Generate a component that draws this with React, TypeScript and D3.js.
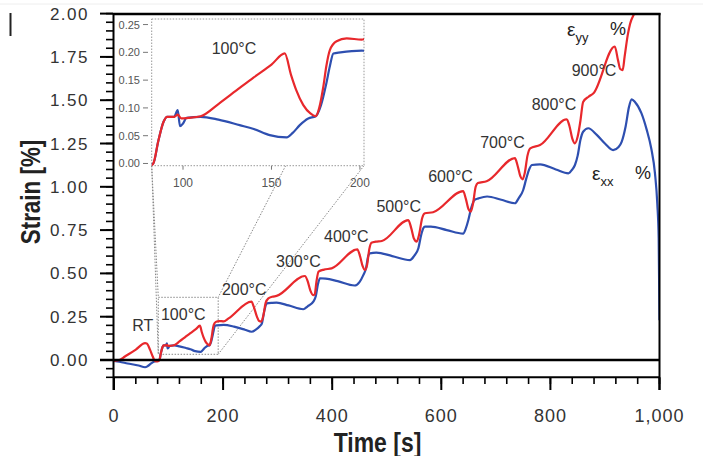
import React from 'react';
import * as d3 from 'd3';

// ε_yy (red) strain [%] vs time [s]
const epsYY: [number, number][] = [
  [0, -0.005], [10, 0.0], [20, 0.02], [40, 0.06], [57, 0.097], [60, 0.095], [66, 0.06], [71, 0.02],
  [75, -0.005], [80, -0.008], [83.2, 0.0], [86, 0.04], [89, 0.075], [91, 0.084], [95, 0.084], [97, 0.088],
  [99, 0.081], [103, 0.082], [110, 0.085], [120, 0.107], [130, 0.131], [140, 0.155], [150, 0.178],
  [157.5, 0.198], [161, 0.16], [164, 0.132], [168, 0.105], [172, 0.09], [175, 0.085], [177, 0.1],
  [179.3, 0.138], [181, 0.175], [183, 0.204], [186.8, 0.22], [192.5, 0.225], [201, 0.223],
  [210, 0.24], [252, 0.337], [256, 0.31], [262, 0.25], [266, 0.225], [270, 0.222], [274, 0.26], [278, 0.33],
  [283, 0.356], [290, 0.365], [298, 0.37],
  [350, 0.485], [355, 0.455], [360, 0.4], [365, 0.375], [368, 0.38], [371, 0.45], [375, 0.51], [385, 0.522], [399, 0.529],
  [446, 0.639], [451, 0.6], [456, 0.54], [460, 0.52], [464, 0.55], [468, 0.64], [472, 0.677], [480, 0.683], [491, 0.687],
  [539.5, 0.808], [545, 0.76], [550, 0.7], [555, 0.683], [559, 0.72], [565, 0.82], [570, 0.847], [585, 0.853],
  [640, 0.975], [645, 0.93], [650, 0.87], [654, 0.856], [658, 0.9], [663, 1.0], [667, 1.022], [683, 1.032],
  [735, 1.165], [740, 1.12], [745, 1.06], [749, 1.043], [753, 1.08], [758, 1.18], [763, 1.222], [781, 1.241],
  [830, 1.39], [835, 1.35], [840, 1.28], [845, 1.251], [850, 1.29], [855, 1.38], [860, 1.49], [870, 1.52], [879, 1.54],
  [918, 1.81], [924, 1.73], [928, 1.68], [932.5, 1.674], [936, 1.75], [942, 1.88], [946, 1.94], [955, 2.01], [962, 2.08],
];

// ε_xx (blue)
const epsXX: [number, number][] = [
  [0, -0.005], [10, -0.01], [25, -0.02], [45, -0.032], [57, -0.042], [62, -0.035], [68, -0.02], [73, -0.01],
  [78, -0.005], [83.2, 0.0], [86, 0.04], [89, 0.075], [91, 0.084], [95, 0.084], [97, 0.096], [98.3, 0.067],
  [100, 0.072], [102, 0.082], [110, 0.084], [120, 0.079], [132, 0.069], [140, 0.062], [149, 0.051],
  [158.6, 0.047], [162, 0.055], [166, 0.069], [170.8, 0.081], [175, 0.085], [178, 0.105], [181, 0.144],
  [183, 0.175], [185, 0.198], [189, 0.2], [201, 0.203],
  [220, 0.193], [240, 0.175], [252, 0.163], [260, 0.175], [267.6, 0.196], [271, 0.21], [276, 0.29], [280, 0.327],
  [290, 0.33], [298, 0.331],
  [320, 0.315], [347, 0.293], [355, 0.31], [365.4, 0.337], [370, 0.37], [374, 0.44], [377.6, 0.472], [388, 0.47],
  [410, 0.455], [441, 0.43], [450, 0.45], [457, 0.49], [462, 0.53], [466, 0.6], [469, 0.616], [481, 0.62],
  [510, 0.6], [542.6, 0.577], [550, 0.6], [558, 0.645], [563, 0.72], [567, 0.76], [570, 0.77], [581, 0.77],
  [610, 0.75], [640, 0.73], [645, 0.76], [649.6, 0.808], [655, 0.88], [661, 0.925], [668, 0.933], [684, 0.944],
  [710, 0.925], [735, 0.905], [742, 0.935], [750, 0.98], [756, 1.05], [761, 1.1], [766, 1.126], [781, 1.13],
  [810, 1.1], [833, 1.078], [840, 1.1], [845, 1.126], [850, 1.18], [855, 1.27], [860, 1.318], [869.5, 1.338],
  [885, 1.3], [900, 1.25], [915, 1.212], [925, 1.23], [930.6, 1.26], [938, 1.35], [944, 1.46], [949, 1.505],
  [955, 1.49], [967, 1.424], [976.5, 1.33], [985, 1.22], [991.7, 1.078], [996, 0.9], [998.5, 0.7], [1000, 0.23],
];

const yTicks = [0, 0.25, 0.5, 0.75, 1.0, 1.25, 1.5, 1.75, 2.0];
const yTickLabels = ['0.00', '0.25', '0.50', '0.75', '1.00', '1.25', '1.50', '1.75', '2.00'];
const xTicks = [0, 200, 400, 600, 800, 1000];
const xTickLabels = ['0', '200', '400', '600', '800', '1,000'];

const tempLabels = ['RT', '100°C', '200°C', '300°C', '400°C', '500°C', '600°C', '700°C', '800°C', '900°C'];
const tempLabelT = [52.6, 127, 238.7, 338, 425.9, 522, 616.9, 712.2, 806.6, 880];
const tempLabelV = [0.167, 0.231, 0.375, 0.537, 0.684, 0.854, 1.025, 1.222, 1.443, 1.64];

const insetXTicks = [100, 150, 200];
const insetYTicks = [0, 0.05, 0.1, 0.15, 0.2, 0.25];
const insetYTickLabels = ['0.00', '0.05', '0.10', '0.15', '0.20', '0.25'];
const zoomBoxT = [81.2, 191];
const zoomBoxV = [0.033, 0.362];

const RED = '#e8282c';
const BLUE = '#2e4fb0';
const FONT = '"Liberation Sans", Arial, Helvetica, sans-serif';

export default function App() {
  const x = d3.scaleLinear().domain([0, 1000]).range([114, 659.5]);
  const y = d3.scaleLinear().domain([0, 2]).range([360, 13.6]);
  const ix = d3.scaleLinear().domain([82.3, 202.3]).range([151.7, 364]);
  const iy = d3.scaleLinear().domain([-0.004, 0.26]).range([165.7, 19]);

  const line = d3.line<[number, number]>().x(d => x(d[0])).y(d => y(d[1])).curve(d3.curveMonotoneX);
  const iline = d3.line<[number, number]>().x(d => ix(d[0])).y(d => iy(d[1])).curve(d3.curveMonotoneX);

  const yMinor = d3.range(-0.1, 2.0001, 0.05);
  const xMinor = d3.range(0, 1000.01, 40);

  const bx0 = x(zoomBoxT[0]), bx1 = x(zoomBoxT[1]);
  const by0 = y(zoomBoxV[1]), by1 = y(zoomBoxV[0]);
  const ibot = iy(-0.004);

  return (
    <svg width={703} height={456} style={{ position: 'absolute', left: 0, top: 0, background: '#fff' }}
      fontFamily={FONT}>
      <defs>
        <clipPath id="plotClip"><rect x={113} y={14} width={547} height={364} /></clipPath>
        <clipPath id="insetClip"><rect x={151.7} y={19} width={212.3} height={146.7} /></clipPath>
      </defs>
      <line x1={0} x2={703} y1={4} y2={4} stroke="#eeeeee" strokeWidth={1} />
      <line x1={10.5} x2={10.5} y1={13} y2={36} stroke="#222" strokeWidth={2} />

      {/* zoom box and connectors */}
      <g stroke="#888" strokeWidth={1} strokeDasharray="1.5 1.5" fill="none">
        <rect x={bx0} y={by0} width={bx1 - bx0} height={by1 - by0} />
        <line x1={ix(82.3)} y1={ibot} x2={bx0} y2={by0} />
        <line x1={ix(82.3)} y1={ibot} x2={bx0} y2={by1} />
        <line x1={ix(158)} y1={ibot} x2={bx1} y2={by0} />
        <line x1={ix(202.3)} y1={ibot} x2={bx1} y2={by1} />
      </g>

      {/* main curves */}
      <g clipPath="url(#plotClip)" fill="none" strokeWidth={2.2} strokeLinejoin="round">
        <path d={line(epsXX) || ''} stroke={BLUE} />
        <path d={line(epsYY) || ''} stroke={RED} />
      </g>

      {/* frame */}
      <g stroke="#000" fill="none">
        <line x1={113} x2={660.5} y1={14} y2={14} strokeWidth={2.5} />
        <line x1={659.5} x2={659.5} y1={13} y2={390} strokeWidth={2} />
        <line x1={113.5} x2={113.5} y1={13} y2={390} strokeWidth={2} />
        <line x1={113} x2={660} y1={y(-0.1)} y2={y(-0.1)} strokeWidth={2} />
        <line x1={100} x2={660} y1={y(0)} y2={y(0)} strokeWidth={2.5} />
        {yMinor.map((v, i) => (
          <line key={'ym' + i} x1={106} x2={113} y1={y(v)} y2={y(v)} strokeWidth={1.6} />
        ))}
        {yTicks.map((v, i) => (
          <line key={'yM' + i} x1={100} x2={113} y1={y(v)} y2={y(v)} strokeWidth={2} />
        ))}
        {xMinor.map((t, i) => (
          <line key={'xm' + i} x1={x(t)} x2={x(t)} y1={y(-0.1)} y2={384} strokeWidth={1.6} />
        ))}
        {xTicks.map((t, i) => (
          <line key={'xM' + i} x1={x(t)} x2={x(t)} y1={y(-0.1)} y2={390} strokeWidth={2} />
        ))}
      </g>

      {/* tick labels */}
      <g fill="#333" fontSize={17} letterSpacing={1.5}>
        {yTicks.map((v, i) => (
          <text key={'yl' + i} x={89} y={y(v) + 6} textAnchor="end">{yTickLabels[i]}</text>
        ))}
      </g>
      <g fill="#333" fontSize={18} letterSpacing={1}>
        {xTicks.map((t, i) => (
          <text key={'xl' + i} x={x(t)} y={422} textAnchor="middle">{xTickLabels[i]}</text>
        ))}
      </g>

      {/* axis titles */}
      <text transform="translate(377.5,452) scale(0.82,1)" textAnchor="middle" fontSize={28}
        fontWeight="bold" fill="#222">Time [s]</text>
      <text transform="translate(40,192) rotate(-90) scale(0.8,1)" textAnchor="middle" fontSize={28}
        fontWeight="bold" fill="#222">Strain [%]</text>

      {/* temperature labels */}
      <g fill="#333" fontSize={16}>
        {tempLabels.map((s, i) => (
          <text key={'tl' + i} x={x(tempLabelT[i])} y={y(tempLabelV[i])} textAnchor="middle">{s}</text>
        ))}
      </g>

      {/* series labels */}
      <g fill="#222">
        <text x={567} y={36} fontSize={19}>ε<tspan fontSize={13} dy={6}>yy</tspan></text>
        <text x={610} y={35} fontSize={18}>%</text>
        <text x={592} y={180} fontSize={19}>ε<tspan fontSize={13} dy={6}>xx</tspan></text>
        <text x={635} y={179} fontSize={18}>%</text>
      </g>

      {/* inset */}
      <rect x={151.7} y={19} width={212.3} height={146.7} fill="#fff" stroke="#999" strokeWidth={1}
        strokeDasharray="1.5 1.5" />
      <g clipPath="url(#insetClip)" fill="none" strokeWidth={2.2} strokeLinejoin="round">
        <path d={iline(epsXX) || ''} stroke={BLUE} />
        <path d={iline(epsYY) || ''} stroke={RED} />
      </g>
      <g stroke="#777" strokeWidth={1}>
        {insetYTicks.map((v, i) => (
          <line key={'iyt' + i} x1={143} x2={148} y1={iy(v)} y2={iy(v)} />
        ))}
        {insetXTicks.map((t, i) => (
          <line key={'ixt' + i} x1={ix(t)} x2={ix(t)} y1={ibot} y2={ibot + 4} />
        ))}
      </g>
      <g fill="#555" fontSize={11}>
        {insetYTicks.map((v, i) => (
          <text key={'iyl' + i} x={140} y={iy(v) + 4} textAnchor="end">{insetYTickLabels[i]}</text>
        ))}
        {insetXTicks.map((t, i) => (
          <text key={'ixl' + i} x={ix(t)} y={187} textAnchor="middle" fontSize={12}>{t}</text>
        ))}
      </g>
      <text x={ix(128.8)} y={iy(0.197)} textAnchor="middle" fontSize={16} fill="#333">100°C</text>
    </svg>
  );
}
